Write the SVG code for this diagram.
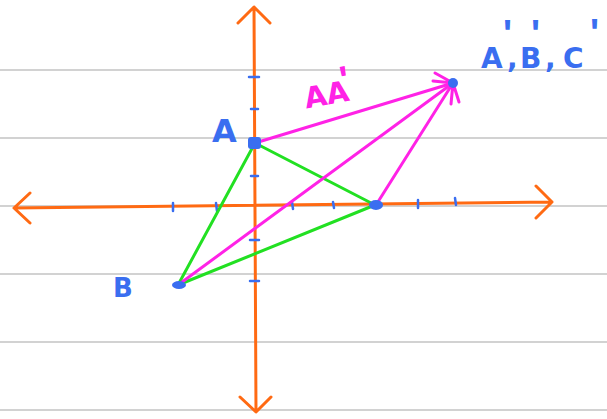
<svg xmlns="http://www.w3.org/2000/svg" width="607" height="419" viewBox="0 0 607 419">
<style>
.grid{stroke:#a6a6a6;stroke-width:1.2}
.ax{stroke:#ff6a13;stroke-width:3;fill:none;stroke-linecap:round;stroke-linejoin:round}
.tick{stroke:#3a6ef0;stroke-width:2.5;stroke-linecap:round}
.g{stroke:#22e022;stroke-width:3;stroke-linecap:round}
.m{stroke:#ff22e6;stroke-width:3;stroke-linecap:round;fill:none}
.pt{fill:#3a6ef0}
.lb{font-family:"DejaVu Sans",sans-serif;fill:#3a6ef0}
.lm{font-family:"DejaVu Sans",sans-serif;fill:#ff22e6}
.pr{font-family:"Liberation Sans",sans-serif;font-size:38px}
</style>
<rect width="607" height="419" fill="#fff"/>
<g id="grid">
<line class="grid" x1="0" y1="70" x2="607" y2="70"/>
<line class="grid" x1="0" y1="138" x2="607" y2="138"/>
<line class="grid" x1="0" y1="206" x2="607" y2="206"/>
<line class="grid" x1="0" y1="274" x2="607" y2="274"/>
<line class="grid" x1="0" y1="342" x2="607" y2="342"/>
<line class="grid" x1="0" y1="410" x2="607" y2="410"/>
</g>
<g id="axes">
<path class="ax" d="M14 208 L552 202 M30 193 L14 208 L30 223 M536 186 L552 202 L536 218"/>
<path class="ax" d="M254 7 L256 412 M238 23 L254 7 L270 23 M240 397 L256 412 L271 397"/>
</g>
<g id="ticks">
<line class="tick" x1="249" y1="77" x2="259" y2="77"/>
<line class="tick" x1="251" y1="109" x2="258" y2="109"/>
<line class="tick" x1="251" y1="176" x2="258" y2="176"/>
<line class="tick" x1="250" y1="240" x2="259" y2="240"/>
<line class="tick" x1="250" y1="281" x2="259" y2="281"/>
<line class="tick" x1="173" y1="203" x2="173" y2="211"/>
<line class="tick" x1="216" y1="203" x2="217" y2="211"/>
<line class="tick" x1="292" y1="202" x2="293" y2="209"/>
<line class="tick" x1="333" y1="202" x2="334" y2="208"/>
<line class="tick" x1="418" y1="200" x2="418" y2="208"/>
<line class="tick" x1="455" y1="198" x2="456" y2="205"/>
</g>
<g id="connectors">
<line class="g" x1="255" y1="143" x2="178" y2="285"/>
<line class="g" x1="255" y1="143" x2="375" y2="205"/>
<line class="g" x1="178" y1="285" x2="375" y2="205"/>
<line class="m" x1="255" y1="143" x2="453" y2="83"/>
<line class="m" x1="178" y1="285" x2="453" y2="83"/>
<line class="m" x1="376" y1="205" x2="453" y2="83"/>
<path class="m" d="M453 83 L435 73 M453 83 L433 81 M453 83 L451 104 M453 83 L459 102"/>
</g>
<g id="A">
<rect class="pt" x="248" y="137" width="13" height="12" rx="3"/>
<text class="lb" x="212" y="142" font-size="32" font-weight="bold">A</text>
</g>
<g id="B">
<ellipse class="pt" cx="179" cy="285" rx="7" ry="4"/>
<text class="lb" x="113" y="297" font-size="26" font-weight="bold">B</text>
</g>
<g id="C">
<ellipse class="pt" cx="376" cy="205" rx="7" ry="5"/>
</g>
<g id="Aprime">
<circle class="pt" cx="453" cy="83" r="5"/>
<text class="lb" font-size="28" font-weight="bold"><tspan x="481" y="68">A</tspan><tspan class="pr" x="503" y="47">'</tspan><tspan x="507" y="68">,</tspan><tspan x="520" y="68">B</tspan><tspan class="pr" x="531" y="47">'</tspan><tspan x="545" y="68">,</tspan><tspan x="563" y="68">C</tspan><tspan class="pr" x="590" y="46">'</tspan></text>
</g>
<g id="label-AA">
<text class="lm" font-size="29" font-weight="bold" transform="rotate(-10 320 100)"><tspan x="305" y="106">AA</tspan><tspan class="pr" x="343" y="97">'</tspan></text>
</g>
</svg>
